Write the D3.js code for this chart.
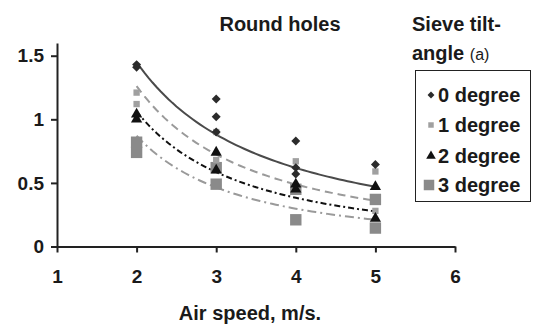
<!DOCTYPE html>
<html><head><meta charset="utf-8">
<script src="https://cdn.jsdelivr.net/npm/d3@7"></script>
<style>
html,body{margin:0;padding:0;background:#fff;}
text{font-family:"Liberation Sans",Arial,sans-serif;font-weight:bold;fill:#1a1a1a;}
</style></head>
<body><svg id="c" width="536" height="327"></svg>
<script>
const seriesNames = ["0 degree","1 degree","2 degree","3 degree"];
const xTicks = [1,2,3,4,5,6];
const yTicks = [0,0.5,1,1.5];
// observed points [airSpeed, value]
const s0 = [[2,1.41],[2,1.43],[3,1.16],[3,1.02],[3,0.9],[4,0.83],[4,0.62],[4,0.57],[5,0.645]];
const s1 = [[2,1.21],[2,1.12],[3,0.9],[3,0.68],[4,0.67],[4,0.45],[5,0.59],[5,0.28]];
const s2 = [[2,1.0],[2,1.04],[3,0.74],[3,0.6],[4,0.49],[4,0.45],[5,0.47],[5,0.22]];
const s3 = [[2,0.82],[2,0.74],[3,0.62],[3,0.49],[4,0.45],[4,0.21],[5,0.37],[5,0.145]];
// power trend lines y = a * x^b
const trendA = [3.40, 3.26, 2.94, 2.55];
const trendB = [-1.23, -1.37, -1.47, -1.55];
const trendX = [2, 5];

const svg = d3.select("#c");
const x = d3.scaleLinear().domain([1,6]).range([57,455]);
const y = d3.scaleLinear().domain([0,1.6]).range([246.5,43]);

// axes
const xAxis = svg.append("g").attr("transform","translate(0,246.5)")
  .call(d3.axisBottom(x).tickValues(xTicks).tickFormat(d3.format("d")).tickSize(6).tickPadding(17).tickSizeOuter(0));
const yAxis = svg.append("g").attr("transform","translate(57,0)")
  .call(d3.axisLeft(y).tickValues(yTicks).tickFormat(d3.format("")).tickSize(6).tickPadding(7).tickSizeOuter(0));
[xAxis,yAxis].forEach(a=>{
  a.select(".domain").attr("stroke","#222").attr("stroke-width",2);
  a.selectAll(".tick line").attr("stroke","#222").attr("stroke-width",2);
  a.selectAll(".tick text").attr("font-size",19).attr("fill","#1a1a1a");
});

// trend lines
const styles = [
  {stroke:"#4a4a4a", dash:null, w:2},
  {stroke:"#9a9a9a", dash:"8,5", w:2},
  {stroke:"#111", dash:"6,3,2,3", w:2},
  {stroke:"#9a9a9a", dash:"9,4,2,4", w:2}
];
const line = d3.line().x(d=>x(d[0])).y(d=>y(d[1]));
trendA.forEach((a,i)=>{
  const pts = d3.range(trendX[0], trendX[1]+0.001, 0.05).map(v=>[v, a*Math.pow(v,trendB[i])]);
  svg.append("path").attr("d",line(pts)).attr("fill","none")
    .attr("stroke",styles[i].stroke).attr("stroke-width",styles[i].w)
    .attr("stroke-dasharray",styles[i].dash);
});

// markers (diamond = square rotated 45°)
const sym = [
  {type:d3.symbolSquare, size:40, fill:"#2b2b2b", rot:45},
  {type:d3.symbolSquare, size:40, fill:"#a0a0a0", rot:0},
  {type:d3.symbolTriangle, size:55, fill:"#111", rot:0},
  {type:d3.symbolSquare, size:130, fill:"#8a8a8a", rot:0}
];
const data = [s0,s1,s2,s3];
[3,1,2,0].forEach(i=>{
  svg.append("g").selectAll("path").data(data[i]).join("path")
    .attr("transform",d=>`translate(${x(d[0])},${y(d[1])}) rotate(${sym[i].rot})`)
    .attr("d",d3.symbol().type(sym[i].type).size(sym[i].size))
    .attr("fill",sym[i].fill);
});

// title
svg.append("text").attr("x",280).attr("y",31).attr("text-anchor","middle").attr("font-size",20).text("Round holes");
svg.append("text").attr("x",412).attr("y",31).attr("font-size",20).text("Sieve tilt-");
const t2 = svg.append("text").attr("x",412).attr("y",60).attr("font-size",20);
t2.append("tspan").text("angle ");
t2.append("tspan").attr("font-size",16).attr("font-weight","normal").text("(a)");

// legend
svg.append("rect").attr("x",415.5).attr("y",70.5).attr("width",115).attr("height",131)
  .attr("fill","none").attr("stroke","#222").attr("stroke-width",1);
const legY = [95,125,156,185];
const legSym = [
  {size:24},
  {size:30},
  {size:40},
  {size:110}
];
seriesNames.forEach((n,i)=>{
  svg.append("path").attr("transform",`translate(${i===3?429:431},${legY[i]}) rotate(${sym[i].rot})`)
    .attr("d",d3.symbol().type(sym[i].type).size(legSym[i].size)).attr("fill",sym[i].fill);
  svg.append("text").attr("x",438).attr("y",legY[i]+7).attr("font-size",20).text(n);
});

// x axis title
svg.append("text").attr("x",250).attr("y",320).attr("text-anchor","middle").attr("font-size",20).text("Air speed, m/s.");
</script></body></html>
